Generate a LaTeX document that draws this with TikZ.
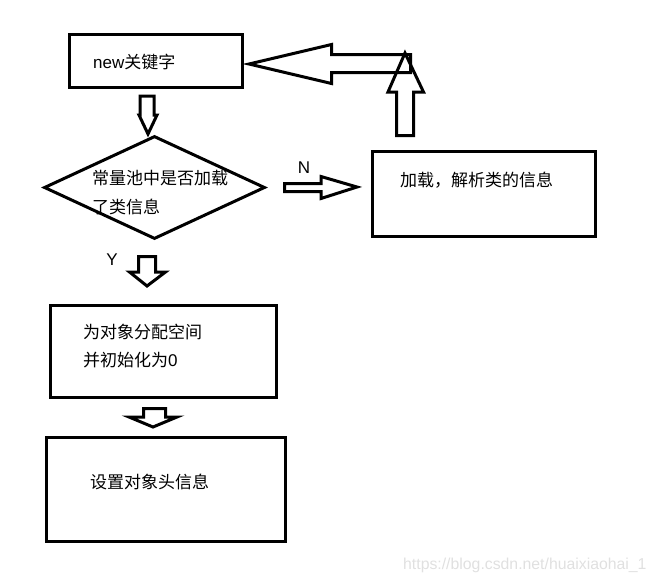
\documentclass[tikz,border=0pt]{standalone}
\usepackage{fontspec}
\setmainfont{Liberation Sans}
\newfontfamily\cjk{Noto Sans CJK SC}
\usetikzlibrary{shapes.geometric}

\tikzset{
  boite/.style={draw, line width=3pt, inner sep=0pt},
  fleche/.style={draw, line width=3pt},
  texte/.style={anchor=west, inner sep=0pt, font=\fontsize{17}{20}\selectfont},
}

\begin{document}
\begin{tikzpicture}[x=1pt, y=-1pt]
\useasboundingbox (0,0) rectangle (655,582);

% Noeuds
\node[boite, minimum width=173pt, minimum height=53pt] (new) at (156,61) {};
\node[boite, diamond, minimum width=221pt, minimum height=103pt] (test) at (154.5,187.5) {};
\node[boite, minimum width=223pt, minimum height=85pt] (charge) at (484,194) {};
\node[boite, minimum width=226pt, minimum height=92pt] (alloc) at (163.5,351.5) {};
\node[boite, minimum width=239pt, minimum height=104pt] (entete) at (166,489.5) {};

% Textes
\node[texte] (tnew) at (93,62) {new{\cjk 关键字}};
\node[texte] (ttest1) at (92,178) {\cjk 常量池中是否加载};
\node[texte] (ttest2) at (92,207) {\cjk 了类信息};
\node[texte] (tcharge) at (400,180) {\cjk 加载，解析类的信息};
\node[texte] (talloc1) at (83,332) {\cjk 为对象分配空间};
\node[texte] (talloc2) at (83,360) {{\cjk 并初始化为}0};
\node[texte] (tentete) at (90,482) {\cjk 设置对象头信息};
\node[texte, anchor=center] (oui) at (112,260) {Y};
\node[texte, anchor=center] (non) at (304,168) {N};
\node[anchor=west, inner sep=0pt, text=black!12, font=\fontsize{15.8}{18}\selectfont] (url) at (403,565) {https://blog.csdn.net/huaixiaohai\_1};

% Flèches
\draw[fleche] (140,96) -- (154,96) -- (154,115) -- (157,115) -- (148,134) -- (139,115) -- (140,115) -- cycle;
\draw[fleche] (138.5,256.5) -- (155.5,256.5) -- (155.5,272) -- (165.5,272) -- (147,286) -- (129.5,272) -- (138.5,272) -- cycle;
\draw[fleche] (143.5,408.5) -- (165.5,408.5) -- (165.5,417) -- (177,417) -- (153,427) -- (129,417) -- (143.5,417) -- cycle;
\draw[fleche] (284.5,183.5) -- (321,183.5) -- (321,176.5) -- (357,187) -- (321,198.5) -- (321,191.5) -- (284.5,191.5) -- cycle;
\draw[fleche] (410.5,54.5) -- (331.5,54.5) -- (331.5,44.5) -- (249,64) -- (331.5,83.5) -- (331.5,72.5) -- (410.5,72.5) -- cycle;
\draw[fleche] (396.5,135.5) -- (413.5,135.5) -- (413.5,92) -- (423.5,92) -- (405,53) -- (388,92) -- (396.5,92) -- cycle;

\end{tikzpicture}
\end{document}
